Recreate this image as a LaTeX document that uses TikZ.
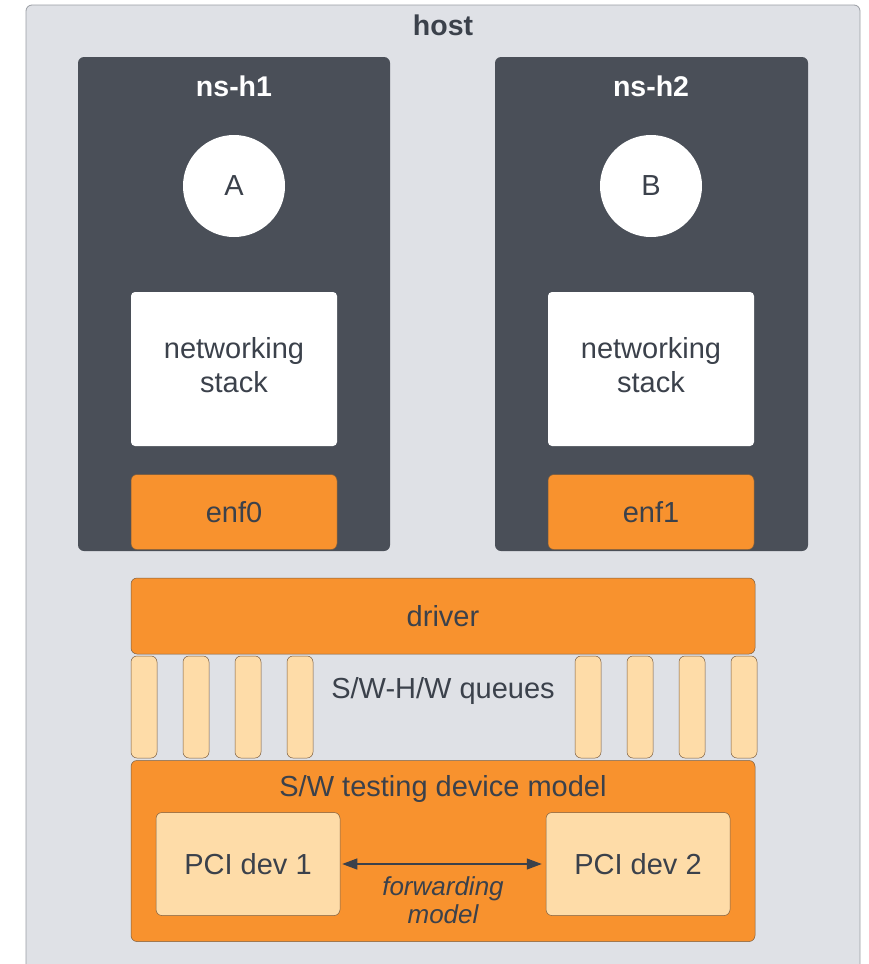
\documentclass[tikz,border=0pt]{standalone}
\usepackage{fontspec}
\setmainfont{Liberation Sans}
\usetikzlibrary{arrows.meta}
\definecolor{hostbg}{HTML}{DFE1E6}
\definecolor{hostline}{HTML}{9A9DA3}
\definecolor{nsdark}{HTML}{4A4F58}
\definecolor{orng}{HTML}{F8922E}
\definecolor{lightorng}{HTML}{FEDCA8}
\definecolor{edgebrown}{HTML}{7A5C3E}
\definecolor{txt}{HTML}{3B414B}
\tikzset{
  every node/.style={text=txt},
  hostbox/.style={draw=hostline, fill=hostbg, rounded corners=6pt, line width=0.8pt},
  whitebox/.style={fill=white, rounded corners=4pt},
  orngbox/.style={draw=edgebrown, fill=orng, rounded corners=6pt, line width=0.5pt},
  pcibox/.style={draw=edgebrown, fill=lightorng, rounded corners=6pt, line width=0.5pt},
  queuebox/.style={draw=edgebrown, fill=lightorng, rounded corners=6pt, line width=0.5pt},
  big/.style={font=\fontsize{29}{34}\selectfont},
  head/.style={font=\fontsize{28.5}{32}\selectfont\bfseries},
  fwdarrow/.style={{Triangle[length=15pt,width=11pt]}-{Triangle[length=15pt,width=11pt]}, draw=txt, line width=1.2pt},
}
\begin{document}
\begin{tikzpicture}[x=1pt, y=-1pt]
\useasboundingbox (0,0) rectangle (869,964);
% host container
\draw[hostbox] (26,5) rectangle (860,975);
\node[head] (host) at (443,25) {host};

% namespace h1
\fill[nsdark, rounded corners=6pt] (78,57) rectangle (390,551);
\node[head, text=white] (nsh1) at (234,86) {ns-h1};
\node[circle, fill=white, minimum size=102pt, inner sep=0pt, big] (A) at (234,186) {A};
\node[whitebox, minimum width=206pt, minimum height=154pt] (stack1) at (234,369) {};
\node[big, align=center] (stack1txt) at (234,365) {networking\\stack};
\node[orngbox, minimum width=206pt, minimum height=75pt, big] (enf0) at (234,512) {enf0};

% namespace h2
\fill[nsdark, rounded corners=6pt] (495,57) rectangle (808,551);
\node[head, text=white] (nsh2) at (651,86) {ns-h2};
\node[circle, fill=white, minimum size=102pt, inner sep=0pt, big] (B) at (651,186) {B};
\node[whitebox, minimum width=206pt, minimum height=154pt] (stack2) at (651,369) {};
\node[big, align=center] (stack2txt) at (651,365) {networking\\stack};
\node[orngbox, minimum width=206pt, minimum height=75pt, big] (enf1) at (651,512) {enf1};

% driver
\node[orngbox, minimum width=624pt, minimum height=76pt, big] (driver) at (443,616) {driver};

% queues
\foreach \x [count=\i] in {144,196,248,300,588,640,692,744}
  \node[queuebox, minimum width=26pt, minimum height=102pt, inner sep=0pt] (q\i) at (\x,707) {};
\node[big] (queues) at (443,691) {S/W-H/W queues};

% device model
\node[orngbox, minimum width=624pt, minimum height=181pt] (model) at (443,851) {};
\node[big] (modeltitle) at (443,789) {S/W testing device model};
\node[pcibox, minimum width=184pt, minimum height=103pt, big] (pci1) at (248,864) {PCI dev 1};
\node[pcibox, minimum width=184pt, minimum height=103pt, big] (pci2) at (638,864) {PCI dev 2};
\draw[fwdarrow] ([xshift=2pt]pci1.east) -- ([xshift=-4pt]pci2.west);
\node[font=\fontsize{26}{28}\selectfont\itshape, align=center] (fwd) at (443,900) {forwarding\\model};
\end{tikzpicture}
\end{document}
